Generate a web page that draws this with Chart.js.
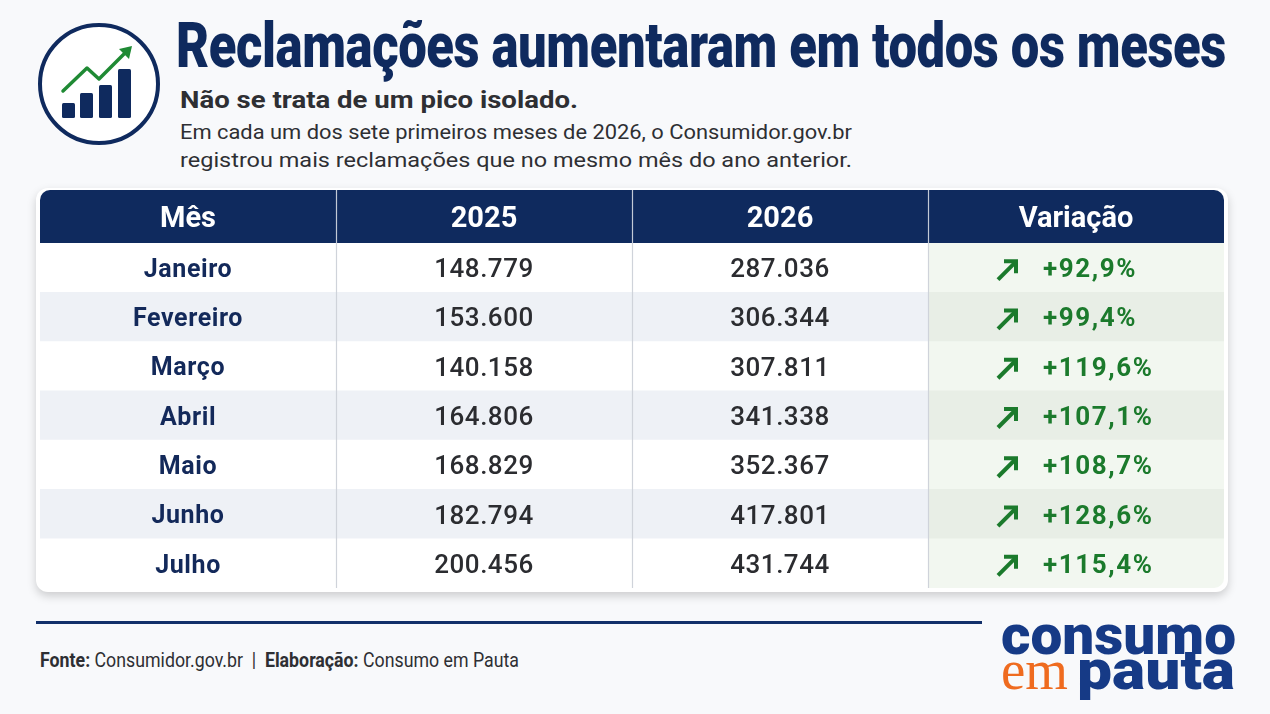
<!DOCTYPE html>
<html><head><meta charset="utf-8">
<script src="https://cdn.jsdelivr.net/npm/chart.js@4.4.1/dist/chart.umd.min.js"></script>
<style>
html,body{margin:0;padding:0;}
body{width:1270px;height:714px;background:#f8f9fb;position:relative;overflow:hidden;font-family:Roboto,"Liberation Sans",sans-serif;}
.abs{position:absolute;white-space:nowrap;line-height:1;transform-origin:0 0;}
#title{left:176px;top:14px;font-weight:900;font-size:63px;color:#0f2a5e;letter-spacing:-0.5px;}
#sub{left:180px;top:89px;font-weight:700;font-size:23px;color:#2e2f33;}
#l1{left:180px;top:122px;font-size:20px;color:#2e2f33;}
#l2{left:180px;top:150px;font-size:20px;color:#2e2f33;}
#card{position:absolute;left:36px;top:188px;width:1192px;height:404px;background:#fff;border-radius:12px;box-shadow:0 4px 10px rgba(0,0,0,0.18);}
#wrap{position:absolute;left:40px;top:190px;width:1184px;height:398px;border-radius:10px;overflow:hidden;}
#rule{position:absolute;left:36px;top:621px;width:946px;height:3px;background:#12306a;}
#foot{left:40px;top:651px;font-size:19.5px;color:#2e2f33;}
#foot b{font-weight:700;}
#c1{left:1001px;top:607px;font-weight:900;font-size:56px;color:#163a86;}
#c2{left:1001px;top:641px;font-family:"Liberation Serif","DejaVu Serif",serif;font-size:57px;color:#ef6b1f;}
#c3{left:1077px;top:642px;font-weight:900;font-size:56px;color:#163a86;}
</style></head>
<body>
<svg class="abs" style="left:0;top:0" width="170" height="170" viewBox="0 0 170 170">
  <circle cx="99" cy="84" r="59" fill="#fff" stroke="#0f2a5e" stroke-width="4"/>
  <rect x="62" y="103" width="13" height="15" rx="1.5" fill="#0f2a5e"/>
  <rect x="80" y="93" width="13" height="25" rx="1.5" fill="#0f2a5e"/>
  <rect x="99" y="85" width="13" height="33" rx="1.5" fill="#0f2a5e"/>
  <rect x="118" y="69" width="13" height="49" rx="1.5" fill="#0f2a5e"/>
  <polyline points="63,91 87,68 99,79 126,52" fill="none" stroke="#1f8a34" stroke-width="3.5" stroke-linejoin="round" stroke-linecap="round"/>
  <polygon points="132,46 119,49 129,59" fill="#1f8a34"/>
</svg>
<div id="title" class="abs">Reclamações aumentaram em todos os meses</div>
<div id="sub" class="abs">Não se trata de um pico isolado.</div>
<div id="l1" class="abs">Em cada um dos sete primeiros meses de 2026, o Consumidor.gov.br</div>
<div id="l2" class="abs">registrou mais reclamações que no mesmo mês do ano anterior.</div>
<div id="card"></div>
<div id="wrap"><canvas id="chart"></canvas></div>
<div id="rule"></div>
<div id="foot" class="abs"><b>Fonte:</b> Consumidor.gov.br &nbsp;|&nbsp; <b>Elaboração:</b> Consumo em Pauta</div>
<div id="c1" class="abs">consumo</div>
<div id="c2" class="abs">em</div>
<div id="c3" class="abs">pauta</div>
<script>
const headers = ['Mês', '2025', '2026', 'Variação'];
const months = ['Janeiro', 'Fevereiro', 'Março', 'Abril', 'Maio', 'Junho', 'Julho'];
const values2025 = [148779, 153600, 140158, 164806, 168829, 182794, 200456];
const values2026 = [287036, 306344, 307811, 341338, 352367, 417801, 431744];
const variation = [92.9, 99.4, 119.6, 107.1, 108.7, 128.6, 115.4];

const NAVY = '#0f2a5e';
const fmt = n => String(n).replace(/\B(?=(\d{3})+(?!\d))/g, '.');
const pct = v => '+' + v.toFixed(1).replace('.', ',') + '%';

function fit(id, w) {
  const el = document.getElementById(id);
  const cur = el.getBoundingClientRect().width;
  if (cur > 0) el.style.transform = 'scaleX(' + (w / cur) + ')';
}

const tablePlugin = {
  id: 'tableCells',
  beforeDatasetsDraw(chart) {
    const {ctx, chartArea: a, scales: {x}} = chart;
    ctx.save();
    ctx.fillStyle = NAVY;
    ctx.fillRect(a.left, 0, a.right - a.left, a.top);
    ctx.fillStyle = '#ffffff';
    ctx.font = '700 29px Roboto';
    ctx.textAlign = 'center';
    ctx.textBaseline = 'middle';
    headers.forEach((h, i) => ctx.fillText(h, x.getPixelForValue(i + 0.5), a.top / 2 + 3));
    ctx.restore();
  },
  afterDatasetsDraw(chart) {
    const {ctx, chartArea: a, scales: {x, y}} = chart;
    ctx.save();
    for (let i = 1; i < headers.length; i++) {
      const px = Math.round(x.getPixelForValue(i)) + 0.5;
      ctx.strokeStyle = 'rgba(255,255,255,0.75)';
      ctx.lineWidth = 1.2;
      ctx.beginPath(); ctx.moveTo(px, 0); ctx.lineTo(px, a.top); ctx.stroke();
      ctx.strokeStyle = '#cfd3da';
      ctx.beginPath(); ctx.moveTo(px, a.top); ctx.lineTo(px, a.bottom); ctx.stroke();
    }
    ctx.textBaseline = 'middle';
    months.forEach((m, i) => {
      const cy = y.getPixelForValue(i) + 3;
      ctx.textAlign = 'center';
      ctx.fillStyle = '#13295a';
      ctx.font = '700 25px Roboto';
      ctx.letterSpacing = '0.6px';
      ctx.fillText(m, x.getPixelForValue(0.5), cy);
      ctx.fillStyle = '#2b2c30';
      ctx.font = '500 26px Roboto';
      ctx.letterSpacing = '0.5px';
      ctx.fillText(fmt(values2025[i]), x.getPixelForValue(1.5), cy);
      ctx.fillText(fmt(values2026[i]), x.getPixelForValue(2.5), cy);
      const cc = x.getPixelForValue(3.5);
      // arrow
      const ax = cc - 69, ay = cy - 1;
      ctx.strokeStyle = '#1b7a2c';
      ctx.lineWidth = 4;
      ctx.lineCap = 'butt';
      ctx.lineJoin = 'miter';
      ctx.beginPath(); ctx.moveTo(ax - 9, ay + 10); ctx.lineTo(ax + 8, ay - 7); ctx.stroke();
      ctx.beginPath(); ctx.moveTo(ax - 3, ay - 8.5); ctx.lineTo(ax + 9, ay - 8.5); ctx.lineTo(ax + 9, ay + 3.5); ctx.stroke();
      ctx.fillStyle = '#1b7a2c';
      ctx.textAlign = 'left';
      ctx.font = '700 26px Roboto';
      ctx.letterSpacing = '1.6px';
      ctx.fillText(pct(variation[i]), cc - 33, cy);
    });
    ctx.restore();
  }
};

function build() {
  new Chart(document.getElementById('chart'), {
    type: 'bar',
    data: {
      labels: months,
      datasets: [
        {
          data: months.map(() => [0, 3]),
          backgroundColor: months.map((_, i) => i % 2 ? '#eef1f6' : '#ffffff'),
          grouped: false, barPercentage: 1, categoryPercentage: 1, borderWidth: 0
        },
        {
          data: months.map(() => [3, 4]),
          backgroundColor: months.map((_, i) => i % 2 ? '#e8eee6' : '#f2f7f0'),
          grouped: false, barPercentage: 1, categoryPercentage: 1, borderWidth: 0
        }
      ]
    },
    options: {
      indexAxis: 'y',
      responsive: true,
      maintainAspectRatio: false,
      animation: false,
      layout: {padding: {top: 53, left: 0, right: 0, bottom: 0}},
      plugins: {legend: {display: false}, tooltip: {enabled: false}},
      scales: {
        x: {type: 'linear', min: 0, max: 4, display: false},
        y: {type: 'category', display: false, offset: true}
      }
    },
    plugins: [tablePlugin]
  });
}

document.fonts.ready.then(() => {
  fit('title', 1050);
  fit('sub', 398);
  fit('l1', 672);
  fit('l2', 672);
  fit('foot', 479);
  fit('c1', 235);
  fit('c2', 67);
  fit('c3', 158);
  build();
});
</script>
</body></html>
